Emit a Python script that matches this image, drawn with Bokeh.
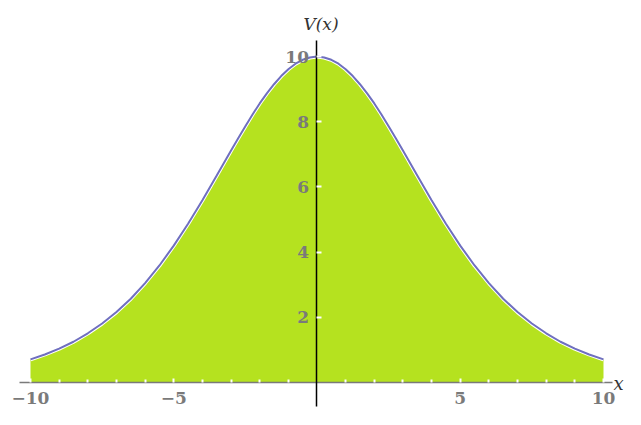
from bokeh.plotting import figure
from bokeh.models import LinearAxis, FixedTicker, Range1d, Label, ColumnDataSource
from bokeh.embed import file_html
from bokeh.resources import INLINE

# Curve V(x)
x_vals = [-10, -9.5, -9, -8.5, -8, -7.5, -7, -6.5, -6, -5.5, -5, -4.5, -4, -3.5,
          -3, -2.75, -2.5, -2.25, -2, -1.75, -1.5, -1.25, -1, -0.75, -0.5, -0.25,
          0, 0.25, 0.5, 0.75, 1, 1.25, 1.5, 1.75, 2, 2.25, 2.5, 2.75, 3,
          3.5, 4, 4.5, 5, 5.5, 6, 6.5, 7, 7.5, 8, 8.5, 9, 9.5, 10]
v_vals = [0.71, 0.86, 1.04, 1.25, 1.51, 1.81, 2.16, 2.57, 3.05, 3.59, 4.20, 4.87,
          5.59, 6.35,
          7.12, 7.49, 7.86, 8.22, 8.56, 8.87, 9.15, 9.40, 9.61, 9.78, 9.90, 9.97,
          10.0, 9.97, 9.90, 9.78, 9.61, 9.40, 9.15, 8.87, 8.56, 8.22, 7.86, 7.49, 7.12,
          6.35, 5.59, 4.87, 4.20, 3.59, 3.05, 2.57, 2.16, 1.81, 1.51, 1.25, 1.04,
          0.86, 0.71]

x_ticks = [-10, -5, 5, 10]
x_minor_ticks = [-9, -8, -7, -6, -4, -3, -2, -1, 1, 2, 3, 4, 6, 7, 8, 9]
y_ticks = [2, 4, 6, 8, 10]
x_tick_labels = {-10: "\u221210", -5: "\u22125", 5: "5", 10: "10"}

src = ColumnDataSource(data=dict(x=x_vals, v=v_vals))

p = figure(width=625, height=409,
           x_range=Range1d(-11.047, 10.768), y_range=Range1d(-0.828, 11.718),
           x_axis_type=None, y_axis_type=None,
           toolbar_location=None, output_backend="svg",
           min_border=0, outline_line_color=None)

p.varea(x="x", y1=0, y2="v", source=src, fill_color="#B5E21F")
p.line(x="x", y="v", source=src, line_color="white", line_width=4)
p.line(x="x", y="v", source=src, line_color="#6F6FBF", line_width=2)

label_style = dict(major_label_text_font="DejaVu Serif",
                   major_label_text_font_size="17px",
                   major_label_text_font_style="bold",
                   major_label_text_color="#7a7a7a")

xaxis = LinearAxis(fixed_location=0,
                   ticker=FixedTicker(ticks=x_ticks, minor_ticks=x_minor_ticks),
                   bounds=(-10.4, 10.3),
                   axis_line_color="#7a7a7a", axis_line_width=1.5,
                   major_tick_in=4, major_tick_out=0,
                   major_tick_line_color="white", major_tick_line_width=2,
                   minor_tick_in=3, minor_tick_out=0,
                   minor_tick_line_color="white", minor_tick_line_width=2,
                   major_label_standoff=9,
                   major_label_overrides=x_tick_labels, **label_style)
p.add_layout(xaxis, "below")

yaxis = LinearAxis(fixed_location=0,
                   ticker=FixedTicker(ticks=y_ticks, minor_ticks=[]),
                   bounds=(-0.75, 10.5),
                   axis_line_color="black", axis_line_width=1.5,
                   major_tick_in=5, major_tick_out=0,
                   major_tick_line_color="white", major_tick_line_width=2,
                   minor_tick_line_color=None,
                   major_label_standoff=8, **label_style)
p.add_layout(yaxis, "left")

p.add_layout(Label(x=0, y=11.01, text="V(x)", text_font="DejaVu Serif",
                   text_font_style="italic", text_font_size="17px",
                   text_align="center", text_baseline="middle",
                   x_offset=4, text_color="#333333"))
p.add_layout(Label(x=10.35, y=0, text="x", text_font="DejaVu Serif",
                   text_font_style="italic", text_font_size="18px",
                   text_align="left", text_baseline="middle",
                   y_offset=-1, text_color="#333333"))

open("out.html", "w").write(file_html(p, INLINE))
